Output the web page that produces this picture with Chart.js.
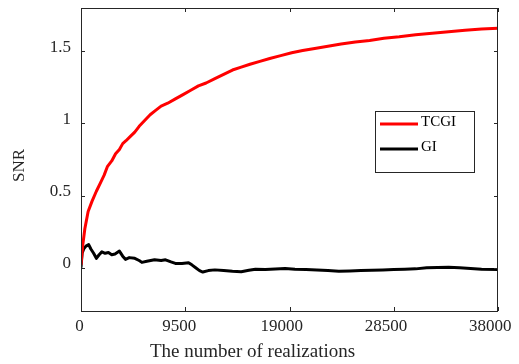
<!DOCTYPE html>
<html>
<head>
<meta charset="utf-8">
<script src="https://cdn.jsdelivr.net/npm/chart.js@4/dist/chart.umd.min.js"></script>
<style>
    html, body { margin: 0; padding: 0; background: #fff; }
    #wrap { width: 519px; height: 364px; }
</style>
</head>
<body>
<div id="wrap"><canvas id="snr-chart"></canvas></div>
<script>
// Values
const seriesNames = ['TCGI', 'GI'];
const xTicks = [0, 9500, 19000, 28500, 38000];
const yTicks = [0, 0.5, 1, 1.5];
const xTitle = 'The number of realizations';
const yTitle = 'SNR';

const tcgiX = [0, 150, 350, 650, 1000, 1400, 1750, 2100, 2400, 2800, 3150, 3500, 3800, 4100, 4500,
    4900, 5300, 5800, 6300, 6800, 7300, 7900, 8600, 9300, 10000, 10700, 11400, 12200, 13000, 13800,
    14600, 15400, 16300, 17200, 18200, 19200, 20200, 21300, 22500, 23700, 25000, 26300, 27600, 29000,
    30500, 32000, 33500, 35000, 36500, 38000];
const tcgiY = [0.02, 0.15, 0.27, 0.39, 0.46, 0.53, 0.585, 0.64, 0.70, 0.74, 0.79, 0.82, 0.86, 0.88, 0.91,
    0.94, 0.98, 1.02, 1.06, 1.09, 1.12, 1.14, 1.17, 1.20, 1.23, 1.26, 1.28, 1.31, 1.34, 1.37,
    1.39, 1.41, 1.43, 1.45, 1.47, 1.49, 1.505, 1.52, 1.535, 1.55, 1.565, 1.575, 1.59, 1.60,
    1.615, 1.625, 1.635, 1.645, 1.655, 1.66];

const giX = [0, 100, 250, 450, 700, 900, 1150, 1400, 1650, 1900, 2200, 2500, 2800, 3100, 3500, 3800,
    4050, 4400, 4900, 5300, 5550, 6000, 6700, 7300, 7700, 8200, 8600, 9200, 9800, 10100, 10450, 10800,
    11100, 11600, 12200, 13000, 13800, 14600, 15300, 15900, 16800, 17700, 18600, 19500, 20500, 21500,
    22500, 23500, 24500, 25500, 26500, 27500, 28500, 29500, 30500, 31500, 32500, 33500, 34500, 35500,
    36500, 38000];
const giY = [0.0, 0.10, 0.13, 0.15, 0.16, 0.13, 0.10, 0.065, 0.09, 0.11, 0.10, 0.105, 0.09, 0.095, 0.115, 0.08,
    0.058, 0.07, 0.065, 0.05, 0.037, 0.045, 0.055, 0.05, 0.055, 0.04, 0.03, 0.03, 0.035, 0.02, 0.0, -0.02,
    -0.03, -0.02, -0.015, -0.02, -0.025, -0.028, -0.018, -0.01, -0.012, -0.009, -0.005, -0.01, -0.012, -0.015,
    -0.02, -0.025, -0.022, -0.02, -0.018, -0.015, -0.012, -0.01, -0.008, 0.0, 0.002, 0.003, 0.0, -0.005,
    -0.01, -0.012];

const axisColor = '#262626';
const serif = "'Liberation Serif', 'Times New Roman', serif";
// the exported figure starts each label as if it were a bit wider than it is
const spread = 1.36;

function toPoints(xs, ys) {
    return xs.map((x, i) => ({ x: x, y: ys[i] }));
}

// box round the plot with inward ticks on all four sides, matlab style
const boxPlugin = {
    id: 'box',
    afterDraw(chart) {
        const { ctx, chartArea: a, scales } = chart;
        ctx.save();
        ctx.strokeStyle = axisColor;
        ctx.lineWidth = 1;
        ctx.strokeRect(a.left + 0.5, a.top + 0.5, a.right - a.left - 1, a.bottom - a.top);
        const len = 4;
        ctx.beginPath();
        xTicks.forEach(v => {
            const px = Math.round(scales.x.getPixelForValue(v)) + 0.5;
            ctx.moveTo(px, a.bottom); ctx.lineTo(px, a.bottom - len);
            ctx.moveTo(px, a.top); ctx.lineTo(px, a.top + len);
        });
        yTicks.forEach(v => {
            const py = Math.round(scales.y.getPixelForValue(v)) + 0.5;
            ctx.moveTo(a.left, py); ctx.lineTo(a.left + len, py);
            ctx.moveTo(a.right, py); ctx.lineTo(a.right - len, py);
        });
        ctx.stroke();

        // x tick labels and both axis titles
        ctx.fillStyle = axisColor;
        ctx.textAlign = 'left';
        ctx.textBaseline = 'middle';
        ctx.font = '17px ' + serif;
        xTicks.forEach(v => {
            const txt = String(v);
            const w = ctx.measureText(txt).width;
            ctx.fillText(txt, scales.x.getPixelForValue(v) - spread * w / 2, a.bottom + 16);
        });
        ctx.font = '19px ' + serif;
        let w = ctx.measureText(xTitle).width;
        ctx.fillText(xTitle, (a.left + a.right) / 2 - spread * w / 2, a.bottom + 41);

        ctx.font = '17px ' + serif;
        w = ctx.measureText(yTitle).width;
        ctx.translate(20, (a.top + a.bottom) / 2 + spread * w / 2);
        ctx.rotate(-Math.PI / 2);
        ctx.fillText(yTitle, 0, 0);
        ctx.restore();
    }
};

// legend box placed inside the plot
const legendPlugin = {
    id: 'boxLegend',
    afterDraw(chart) {
        const ctx = chart.ctx;
        const left = 375, top = 111, w = 99, h = 61;
        ctx.save();
        ctx.fillStyle = '#fff';
        ctx.fillRect(left, top, w, h);
        ctx.strokeStyle = axisColor;
        ctx.lineWidth = 1;
        ctx.strokeRect(left + 0.5, top + 0.5, w, h);
        ctx.font = '15px ' + serif;
        ctx.textBaseline = 'middle';
        chart.data.datasets.forEach((ds, i) => {
            const y = top + 13 + i * 25;
            ctx.strokeStyle = ds.borderColor;
            ctx.lineWidth = 3;
            ctx.beginPath();
            ctx.moveTo(left + 5, y);
            ctx.lineTo(left + 43, y);
            ctx.stroke();
            ctx.fillStyle = '#000';
            ctx.fillText(ds.label, left + 46, y - 2);
        });
        ctx.restore();
    }
};

new Chart(document.getElementById('snr-chart'), {
    type: 'line',
    data: {
        datasets: [
            { label: seriesNames[0], data: toPoints(tcgiX, tcgiY), borderColor: '#ff0000', borderWidth: 3 },
            { label: seriesNames[1], data: toPoints(giX, giY), borderColor: '#000000', borderWidth: 3 }
        ]
    },
    options: {
        responsive: true,
        maintainAspectRatio: false,
        animation: false,
        layout: { padding: { top: 8, right: 21, left: 0, bottom: 0 } },
        elements: { point: { radius: 0 }, line: { tension: 0, borderJoinStyle: 'round' } },
        plugins: { legend: { display: false }, tooltip: { enabled: false } },
        scales: {
            x: {
                type: 'linear',
                min: 0,
                max: 38000,
                grid: { display: false, drawTicks: false },
                border: { display: false },
                afterBuildTicks: s => { s.ticks = xTicks.map(v => ({ value: v })); },
                afterFit: s => { s.height = 53; s.paddingLeft = 0; s.paddingRight = 0; },
                ticks: { display: false }
            },
            y: {
                min: -0.3,
                max: 1.8,
                grid: { display: false, drawTicks: false },
                border: { display: false },
                afterBuildTicks: s => { s.ticks = yTicks.map(v => ({ value: v })); },
                afterFit: s => { s.width = 81; s.paddingTop = 0; s.paddingBottom = 0; },
                ticks: {
                    color: axisColor,
                    font: { family: serif, size: 17 },
                    padding: 10,
                    labelOffset: -4,
                    callback: v => String(v)
                }
            }
        }
    },
    plugins: [boxPlugin, legendPlugin]
});
</script>
</body>
</html>
